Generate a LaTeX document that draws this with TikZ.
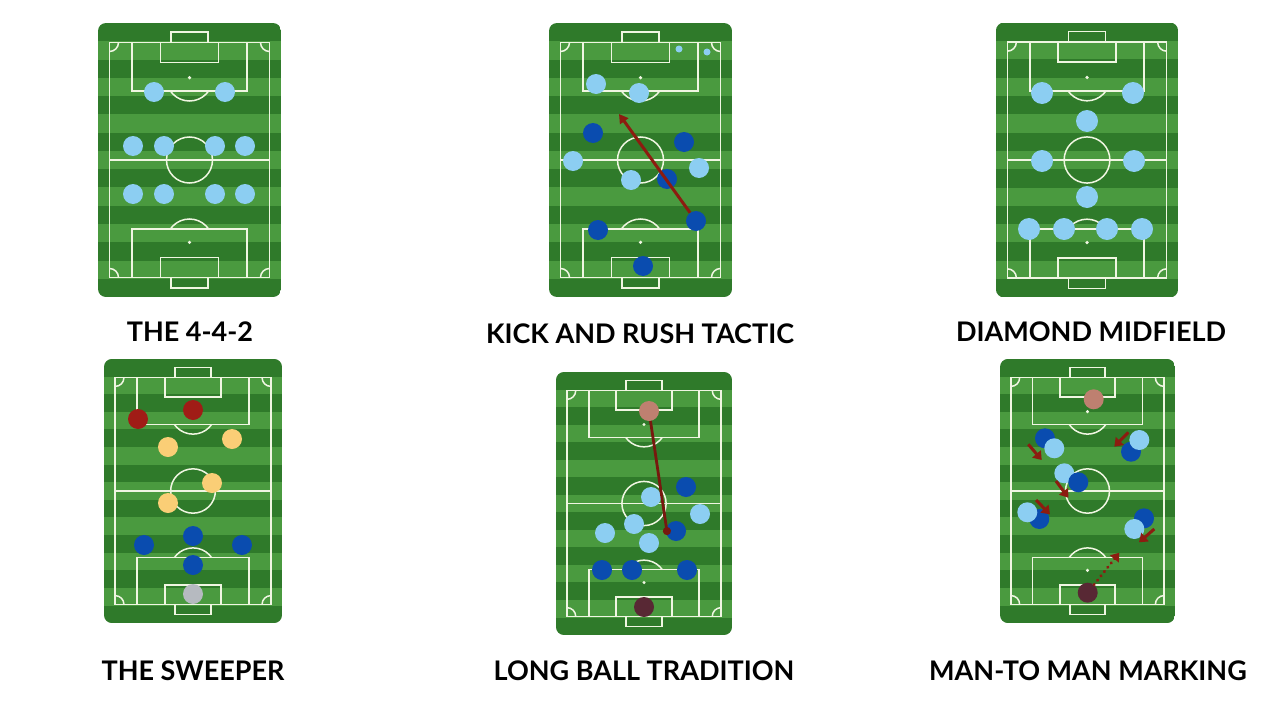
\documentclass[tikz,border=0pt]{standalone}
\usepackage{xcolor}
\usepackage{tikz}
\usepackage{fontspec}
\setmainfont{Lato}
\usetikzlibrary{arrows.meta}
\definecolor{turfdark}{RGB}{47,122,42}
\definecolor{turflight}{RGB}{74,154,63}
\definecolor{chalkline}{RGB}{240,246,226}
\definecolor{kitsky}{RGB}{140,206,242}
\definecolor{kitnavy}{RGB}{10,76,175}
\definecolor{kitred}{RGB}{160,28,22}
\definecolor{kitsand}{RGB}{250,206,118}
\definecolor{kitgrey}{RGB}{182,186,192}
\definecolor{kitrose}{RGB}{190,128,112}
\definecolor{kitplum}{RGB}{88,40,52}
\definecolor{runred}{RGB}{140,28,16}
\tikzstyle{chalk} = [draw=chalkline, line width=1.5pt]
\tikzstyle{player} = [circle, inner sep=0pt, minimum size=20pt]
\tikzstyle{skyman} = [player, fill=kitsky]
\tikzstyle{navyman} = [player, fill=kitnavy]
\tikzstyle{redman} = [player, fill=kitred]
\tikzstyle{sandman} = [player, fill=kitsand]
\tikzstyle{greyman} = [player, fill=kitgrey]
\tikzstyle{roseman} = [player, fill=kitrose]
\tikzstyle{plumman} = [player, fill=kitplum]
\tikzstyle{tinyman} = [circle, inner sep=0pt, minimum size=7pt, fill=kitsky]
\tikzstyle{run} = [draw=runred, line width=3pt, -{Triangle[length=8pt,width=11pt]}]
\tikzstyle{tagline} = [font=\fontsize{27}{30}\selectfont\bfseries, text=black]
\tikzset{
  pics/pitch/.style={code={
    \begin{scope}
      \clip[rounded corners=8pt] (-91.5,-137) rectangle (91.5,137);
      \fill[turfdark] (-91.5,-137) rectangle (91.5,137);
      \foreach \k in {1,3,...,13}
        \fill[turflight] (-91.5,{-137+18.27*\k}) rectangle (91.5,{-137+18.27*\k+18.27});
    \end{scope}
    \draw[chalk] (-80,-117.5) rectangle (80,117.5);
    \draw[chalk] (-80,0) -- (80,0);
    \draw[chalk] (0,0) circle (23);
    \begin{scope}
      \clip (-80,-117.5) rectangle (80,117.5);
      \foreach \cx/\cy in {-80/-117.5,80/-117.5,-80/117.5,80/117.5}
        \draw[chalk] (\cx,\cy) circle (9);
    \end{scope}
    \foreach \s in {1,-1} {
      \draw[chalk] (-57.3,{-117.5*\s}) rectangle (57.3,{-69*\s});
      \draw[chalk] (-29,{-117.5*\s}) rectangle (29,{-97.5*\s});
      \draw[chalk] (-18.5,{-117.5*\s}) rectangle (18.5,{-128*\s});
      \fill[chalkline] (0,{-82.3*\s}) circle (1.8);
      \begin{scope}
        \clip (-40,{-69*\s}) rectangle (40,{-45*\s});
        \draw[chalk] (0,{-82.3*\s}) circle (23.3);
      \end{scope}
    }
  }}
}

\begin{document}
\begin{tikzpicture}[x=1pt, y=-1pt]
  \useasboundingbox (0,0) rectangle (1280,720);

  % pitches
  \pic at (189.5,160) {pitch};
  \pic at (640.5,160) {pitch};
  \pic[xscale=0.995, yscale=1.003] at (1087,160) {pitch};
  \pic[xscale=0.973, yscale=0.964] at (193,491) {pitch};
  \pic[xscale=0.962, yscale=0.960] at (644,503.5) {pitch};
  \pic[xscale=0.956, yscale=0.964] at (1087.5,491) {pitch};

  % the 4-4-2
  \node (ff1) [skyman] at (154,92) {};
  \node (ff2) [skyman] at (225,92) {};
  \node (ff3) [skyman] at (133,146) {};
  \node (ff4) [skyman] at (164,146) {};
  \node (ff5) [skyman] at (215,146) {};
  \node (ff6) [skyman] at (245,146) {};
  \node (ff7) [skyman] at (133,194) {};
  \node (ff8) [skyman] at (164,194) {};
  \node (ff9) [skyman] at (215,194) {};
  \node (ff10) [skyman] at (245,194) {};

  % kick and rush
  \node (kr1) [tinyman] at (679,49) {};
  \node (kr2) [tinyman] at (707,52) {};
  \node (kr3) [skyman] at (596,84) {};
  \node (kr4) [skyman] at (639,93) {};
  \node (kr5) [skyman] at (573,161) {};
  \node (kr6) [skyman] at (699,168) {};
  \node (kr7) [skyman] at (631,180) {};
  \node (kr8) [navyman] at (593,133) {};
  \node (kr9) [navyman] at (684,142) {};
  \node (kr10) [navyman] at (667,179) {};
  \node (kr11) [navyman] at (696,221) {};
  \node (kr12) [navyman] at (598,230) {};
  \node (kr13) [navyman] at (643,266) {};
  \coordinate (krball) at (619,114);
  \draw[run, -{Triangle[length=9pt,width=10pt]}] (kr11) -- (krball);

  % diamond midfield
  \node (dm1) [skyman, minimum size=22pt] at (1042,93) {};
  \node (dm2) [skyman, minimum size=22pt] at (1133,93) {};
  \node (dm3) [skyman, minimum size=22pt] at (1087,121) {};
  \node (dm4) [skyman, minimum size=22pt] at (1042,161) {};
  \node (dm5) [skyman, minimum size=22pt] at (1134,161) {};
  \node (dm6) [skyman, minimum size=22pt] at (1087,197) {};
  \node (dm7) [skyman, minimum size=22pt] at (1029,229) {};
  \node (dm8) [skyman, minimum size=22pt] at (1064,229) {};
  \node (dm9) [skyman, minimum size=22pt] at (1107,229) {};
  \node (dm10) [skyman, minimum size=22pt] at (1142,229) {};

  % the sweeper
  \node (sw1) [redman] at (138,419) {};
  \node (sw2) [redman] at (193,410) {};
  \node (sw3) [sandman] at (168,447) {};
  \node (sw4) [sandman] at (232,439) {};
  \node (sw5) [sandman] at (212,483) {};
  \node (sw6) [sandman] at (168,503) {};
  \node (sw7) [navyman] at (193,536) {};
  \node (sw8) [navyman] at (144,545) {};
  \node (sw9) [navyman] at (242,545) {};
  \node (sw10) [navyman] at (193,565) {};
  \node (sw11) [greyman] at (193,594) {};

  % long ball
  \node (lb1) [roseman] at (649,411) {};
  \node (lb2) [navyman] at (686,487) {};
  \node (lb3) [skyman] at (651,497) {};
  \node (lb4) [skyman] at (700,514) {};
  \node (lb5) [skyman] at (634,524) {};
  \node (lb6) [navyman] at (676,531) {};
  \node (lb7) [skyman] at (605,533) {};
  \node (lb8) [skyman] at (649,543) {};
  \node (lb9) [navyman] at (602,570) {};
  \node (lb10) [navyman] at (632,570) {};
  \node (lb11) [navyman] at (687,570) {};
  \node (lb12) [plumman] at (644,607) {};
  \coordinate (lbball) at (667.5,535);
  \draw[draw=runred!85!black, line width=2.8pt, -{Circle[length=8pt]}] (lb1) -- (lbball);

  % man-to-man marking
  \node (mm1) [roseman] at (1093.7,399.3) {};
  \node (mm2) [navyman] at (1045,438.3) {};
  \node (mm3) [skyman] at (1054.3,448.3) {};
  \node (mm4) [navyman] at (1131,451.7) {};
  \node (mm5) [skyman] at (1139.3,440) {};
  \node (mm6) [skyman] at (1064.3,473.3) {};
  \node (mm7) [navyman] at (1078.3,482.3) {};
  \node (mm8) [navyman] at (1039.3,519) {};
  \node (mm9) [skyman] at (1027.3,512.3) {};
  \node (mm10) [navyman] at (1144,518.3) {};
  \node (mm11) [skyman] at (1134.3,529) {};
  \node (mm12) [plumman] at (1087.7,592.7) {};
  \coordinate (mm2a) at (1028.3,444.3);
  \coordinate (mm2b) at (1041.7,460);
  \coordinate (mm4a) at (1128.3,432.3);
  \coordinate (mm4b) at (1114.3,446.7);
  \coordinate (mm7a) at (1056,481);
  \coordinate (mm7b) at (1068.3,497.7);
  \coordinate (mm8a) at (1036,500);
  \coordinate (mm8b) at (1050,514.3);
  \coordinate (mm10a) at (1154.3,529);
  \coordinate (mm10b) at (1139,542.3);
  \coordinate (mmpass) at (1119.3,552.7);
  \draw[run] (mm2a) -- (mm2b);
  \draw[run] (mm4a) -- (mm4b);
  \draw[run] (mm7a) -- (mm7b);
  \draw[run] (mm8a) -- (mm8b);
  \draw[run] (mm10a) -- (mm10b);
  \draw[run, line cap=round, dash pattern=on 0.5pt off 5pt] (mm12) -- (mmpass);

  % titles
  \node (t1) [tagline] at (190,332) {THE 4-4-2};
  \node (t2) [tagline] at (640,334) {KICK AND RUSH TACTIC};
  \node (t3) [tagline] at (1091,332) {DIAMOND MIDFIELD};
  \node (t4) [tagline] at (193,671) {THE SWEEPER};
  \node (t5) [tagline] at (644,671) {LONG BALL TRADITION};
  \node (t6) [tagline] at (1088,671) {MAN-TO MAN MARKING};
\end{tikzpicture}
\end{document}
